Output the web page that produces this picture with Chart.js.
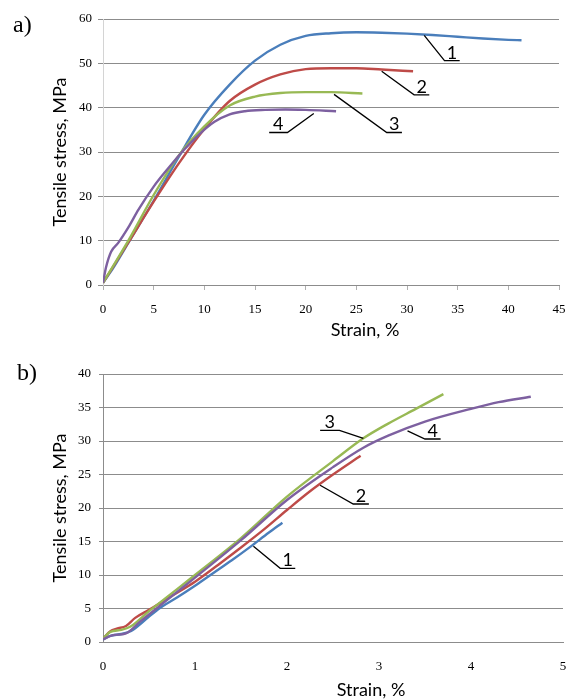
<!DOCTYPE html>
<html>
<head>
<meta charset="utf-8">
<script src="https://cdn.jsdelivr.net/npm/chart.js@4.4.1/dist/chart.umd.min.js"></script>
<style>
  html, body { margin: 0; padding: 0; background: #fff; }
  #wrap { position: relative; width: 570px; height: 700px; }
  canvas { position: absolute; left: 0; }
  #chartA { top: 0; }
  #chartB { top: 355px; }
</style>
</head>
<body>
<div id="wrap">
  <canvas id="chartA" width="570" height="345"></canvas>
  <canvas id="chartB" width="570" height="345"></canvas>
</div>
<script>
// ---- data ----
const seriesNames = ['1', '2', '3', '4'];
const seriesColors = ['#4a7ebb', '#be4b48', '#98b954', '#7d60a0'];

// a) strain, % / tensile stress, MPa
const a1Strain = [0, 1, 2.5, 5, 7.5, 10, 12.5, 15, 17.5, 20, 22.5, 25, 27.5, 30, 32.5, 35, 37.5, 40, 41.3];
const a1Stress = [0.5, 3.8, 9.5, 19, 29, 38.4, 45.2, 50.6, 54.2, 56.2, 56.8, 57, 56.9, 56.7, 56.4, 56, 55.6, 55.3, 55.2];
const a2Strain = [0, 2.5, 5, 7.5, 10, 12.5, 15, 17.5, 20, 22.5, 25, 27.5, 30.6];
const a2Stress = [0.5, 9.6, 18.8, 27.5, 35.2, 41.5, 45.2, 47.5, 48.7, 48.9, 48.9, 48.6, 48.2];
const a3Strain = [0, 2.5, 5, 7.5, 10, 12.5, 15, 17.5, 20, 22.5, 25.6];
const a3Stress = [0.5, 10, 20.3, 29.3, 35.8, 40.5, 42.5, 43.3, 43.5, 43.5, 43.2];
const a4Strain = [0, 0.3, 0.8, 1.5, 2.5, 3.5, 5, 6.5, 8, 9.5, 11, 12.5, 14, 16, 18, 20, 23];
const a4Stress = [0.5, 4, 7.5, 9.5, 13, 17, 22.2, 26.5, 30.5, 34, 36.8, 38.5, 39.2, 39.5, 39.6, 39.5, 39.2];

// b)
const b1Strain = [0, 0.08, 0.2, 0.3, 0.45, 0.6, 0.8, 1, 1.2, 1.4, 1.6, 1.8, 1.95];
const b1Stress = [0.4, 0.9, 1.2, 1.6, 3.2, 4.9, 6.6, 8.4, 10.3, 12.2, 14.2, 16.3, 17.8];
const b2Strain = [0, 0.08, 0.15, 0.25, 0.35, 0.5, 0.75, 1, 1.25, 1.5, 1.75, 2, 2.25, 2.5, 2.8];
const b2Stress = [0.5, 1.6, 2, 2.4, 3.6, 4.8, 6.9, 9, 11.5, 14.1, 16.8, 19.7, 22.5, 25, 27.8];
const b3Strain = [0, 0.08, 0.2, 0.3, 0.5, 0.75, 1, 1.5, 2, 2.5, 2.83, 3.1, 3.4, 3.7];
const b3Stress = [0.5, 1.5, 1.8, 2.3, 4.6, 7.3, 10, 15.5, 21.7, 27, 30.4, 32.6, 34.8, 37];
const b4Strain = [0, 0.1, 0.25, 0.4, 0.6, 0.8, 1, 1.5, 2, 2.5, 2.83, 3.1, 3.5, 4, 4.3, 4.65];
const b4Stress = [0.4, 1, 1.3, 3, 5.2, 7.4, 9.6, 15.2, 21.2, 26.1, 29, 30.8, 32.9, 34.8, 35.8, 36.6];

// axis ranges / ticks
const aStrainTicks = [0, 45, 5];
const aStressTicks = [0, 60, 10];
const bStrainTicks = [0, 5, 1];
const bStressTicks = [0, 40, 5];

// callouts in data units: label, on-curve x,y, elbow x,y, underline end x
const aCallouts = [
  ['1', 31.7, 56.3, 33.7, 50.6, 35.2],
  ['2', 27.5, 48.2, 30.7, 42.9, 32.2],
  ['3', 22.8, 43.0, 28.0, 34.4, 29.5],
  ['4', 20.8, 38.7, 18.2, 34.4, 16.4]
];
const bCallouts = [
  ['1', 1.635, 14.3, 1.926, 11.0, 2.09],
  ['2', 2.36, 23.4, 2.72, 20.6, 2.89],
  ['3', 2.83, 30.4, 2.57, 31.6, 2.36],
  ['4', 3.31, 31.5, 3.50, 30.3, 3.67]
];

function pts(xs, ys) { return xs.map((x, i) => ({ x: x, y: ys[i] })); }

function datasets(list) {
  return list.map((s, i) => ({
    label: seriesNames[i],
    data: pts(s[0], s[1]),
    borderColor: seriesColors[i],
    backgroundColor: seriesColors[i],
    borderWidth: 2.4,
    pointRadius: 0,
    showLine: true,
    cubicInterpolationMode: 'monotone',
    order: 4 - i
  }));
}

// text overlay: panel letter, axis titles, callouts
const overlay = {
  id: 'overlay',
  afterDraw(chart, args, o) {
    const { ctx, chartArea: area } = chart;
    const xs = chart.scales.x, ys = chart.scales.y;
    ctx.save();
    ctx.fillStyle = '#000';
    ctx.font = '24px "Liberation Serif"';
    ctx.textAlign = 'left';
    ctx.textBaseline = 'alphabetic';
    ctx.fillText(o.panel, o.panelX, o.panelY);

    ctx.font = '18px Lato';
    ctx.textAlign = 'center';
    ctx.textBaseline = 'middle';
    ctx.fillText('Strain, %', o.xTitleX, o.xTitleY);
    ctx.save();
    ctx.translate(60, (area.top + area.bottom) / 2);
    ctx.rotate(-Math.PI / 2);
    ctx.fillText('Tensile stress, MPa', 0, 0);
    ctx.restore();

    ctx.strokeStyle = '#000';
    ctx.lineWidth = 1.3;
    ctx.font = '18px Lato';
    ctx.textBaseline = 'alphabetic';
    o.callouts.forEach(c => {
      const x0 = xs.getPixelForValue(c[1]), y0 = ys.getPixelForValue(c[2]);
      const x1 = xs.getPixelForValue(c[3]), y1 = ys.getPixelForValue(c[4]);
      const x2 = xs.getPixelForValue(c[5]);
      ctx.beginPath();
      ctx.moveTo(x0, y0);
      ctx.lineTo(x1, y1);
      ctx.lineTo(x2, y1);
      ctx.stroke();
      ctx.fillText(c[0], (x1 + x2) / 2, y1 - 2);
    });
    ctx.restore();
  }
};

const tickFont = { family: '"Liberation Serif", "Times New Roman", serif', size: 13 };

// fixed axis box sizes; drop the label overhang padding so plot edges stay put
function fixX(h) {
  return s => { s.height = h; s.paddingLeft = 0; s.paddingRight = 0; };
}
function fixY(w) {
  return s => { s.width = w; };
}

new Chart(document.getElementById('chartA'), {
  type: 'scatter',
  data: {
    datasets: datasets([[a1Strain, a1Stress], [a2Strain, a2Stress], [a3Strain, a3Stress], [a4Strain, a4Stress]])
  },
  options: {
    responsive: false,
    animation: false,
    layout: { padding: { top: 19, right: 11, left: 0, bottom: 0 } },
    plugins: {
      legend: { display: false },
      tooltip: { enabled: false },
      overlay: { panel: 'a)', panelX: 13, panelY: 32, xTitleX: 365, xTitleY: 330, callouts: aCallouts }
    },
    scales: {
      x: {
        type: 'linear',
        min: aStrainTicks[0], max: aStrainTicks[1],
        ticks: { stepSize: aStrainTicks[2], font: tickFont, color: '#000', padding: 12, maxRotation: 0 },
        grid: { drawOnChartArea: false, drawTicks: true, tickLength: 5, color: '#b0b0b0' },
        border: { display: true, color: '#8c8c8c' },
        afterFit: fixX(60)
      },
      y: {
        min: aStressTicks[0], max: aStressTicks[1],
        ticks: { stepSize: aStressTicks[2], font: tickFont, color: '#000', padding: 6 },
        grid: { color: '#8c8c8c', tickLength: 5 },
        border: { display: true, color: '#d4d4d4' },
        afterFit: fixY(103)
      }
    }
  },
  plugins: [overlay]
});

new Chart(document.getElementById('chartB'), {
  type: 'scatter',
  data: {
    datasets: datasets([[b1Strain, b1Stress], [b2Strain, b2Stress], [b3Strain, b3Stress], [b4Strain, b4Stress]])
  },
  options: {
    responsive: false,
    animation: false,
    layout: { padding: { top: 19, right: 7, left: 0, bottom: 0 } },
    plugins: {
      legend: { display: false },
      tooltip: { enabled: false },
      overlay: { panel: 'b)', panelX: 17, panelY: 25, xTitleX: 371, xTitleY: 335, callouts: bCallouts }
    },
    scales: {
      x: {
        type: 'linear',
        min: bStrainTicks[0], max: bStrainTicks[1],
        ticks: { stepSize: bStrainTicks[2], font: tickFont, color: '#000', padding: 13, maxRotation: 0 },
        grid: { drawOnChartArea: false, drawTicks: true, tickLength: 4, color: 'rgba(0,0,0,0)' },
        border: { display: true, color: '#8c8c8c' },
        afterFit: fixX(58)
      },
      y: {
        min: bStressTicks[0], max: bStressTicks[1],
        ticks: { stepSize: bStressTicks[2], font: tickFont, color: '#000', padding: 8 },
        grid: { color: '#8c8c8c', tickLength: 4 },
        border: { display: true, color: '#8c8c8c' },
        afterFit: fixY(103)
      }
    }
  },
  plugins: [overlay]
});
</script>
</body>
</html>
